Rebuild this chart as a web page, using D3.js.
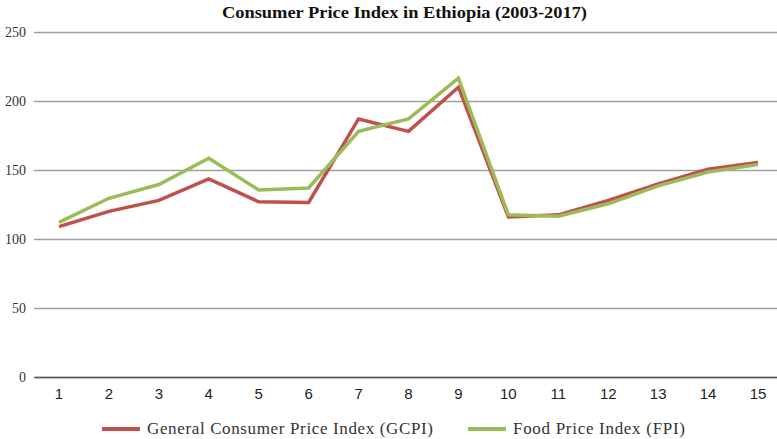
<!DOCTYPE html>
<html><head><meta charset="utf-8">
<script src="https://cdn.jsdelivr.net/npm/d3@7"></script>
<style>body{margin:0;background:#fff}</style>
</head><body>
<svg id="c" width="777" height="439"></svg>
<script>
const categories = ["1","2","3","4","5","6","7","8","9","10","11","12","13","14","15"];
const gcpi = [109, 120, 128, 143.5, 127, 126.5, 187, 178, 210, 116, 117.5, 128, 140, 150.5, 155.5];
const fpi  = [112, 129.5, 139.5, 158.5, 135.5, 137, 178, 187, 216.5, 117.5, 116.5, 125.5, 138.5, 148.5, 154];
const yTicks = [0, 50, 100, 150, 200, 250];
const seriesNames = ["General Consumer Price Index (GCPI)", "Food Price Index (FPI)"];
const colors = ["#c0504d", "#9bbb59"];
const title = "Consumer Price Index in Ethiopia (2003-2017)";

const svg = d3.select("#c");
const x = d3.scaleBand().domain(categories).range([34, 783]);
const y = d3.scaleLinear().domain([0, 250]).range([377, 32]);

svg.append("text").attr("x", 222).attr("y", 18)
  .attr("textLength", 365).attr("lengthAdjust", "spacingAndGlyphs")
  .attr("font-family", "Liberation Serif, serif").attr("font-weight", "bold")
  .attr("font-size", 16).attr("fill", "#111").text(title);

const ya = svg.append("g").attr("transform", "translate(34,0)")
  .call(d3.axisLeft(y).tickValues(yTicks).tickSize(-760).tickPadding(8));
ya.select(".domain").remove();
ya.selectAll(".tick line").attr("stroke", "#a0a0a0").attr("stroke-width", 1.3);
ya.selectAll(".tick text").attr("font-family", "Liberation Serif, serif")
  .attr("font-size", 14).attr("fill", "#333");

const xa = svg.append("g").attr("transform", "translate(0,377)")
  .call(d3.axisBottom(x).tickSize(0).tickPadding(11));
xa.select(".domain").attr("stroke", "#555").attr("stroke-width", 1.5);
xa.selectAll(".tick text").attr("font-family", "Liberation Sans, sans-serif")
  .attr("font-size", 15).attr("fill", "#222");

const line = d3.line().x((d, i) => x(categories[i]) + x.bandwidth() / 2).y(d => y(d));
[gcpi, fpi].forEach((s, k) => {
  svg.append("path").datum(s).attr("d", line).attr("fill", "none")
    .attr("stroke", colors[k]).attr("stroke-width", 3.5).attr("stroke-linejoin", "miter");
});

const legX = [102, 468];
const legW = [286, 172];
seriesNames.forEach((n, k) => {
  svg.append("line").attr("x1", legX[k]).attr("x2", legX[k] + 38).attr("y1", 429).attr("y2", 429)
    .attr("stroke", colors[k]).attr("stroke-width", 4);
  svg.append("text").attr("x", legX[k] + 45).attr("y", 434)
    .attr("textLength", legW[k]).attr("lengthAdjust", "spacing")
    .attr("font-family", "Liberation Serif, serif").attr("font-size", 17).attr("fill", "#333").text(n);
});
</script>
</body></html>
